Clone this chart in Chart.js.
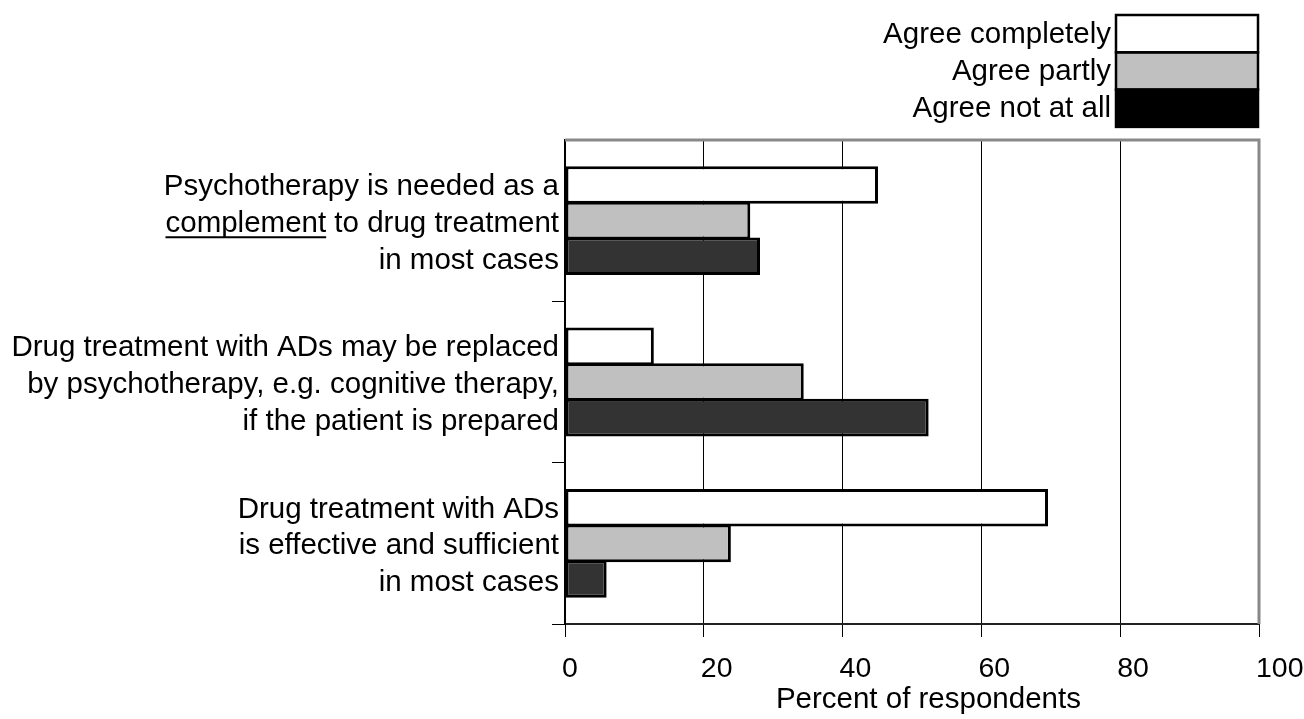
<!DOCTYPE html>
<html>
<head>
<meta charset="utf-8">
<script src="https://cdn.jsdelivr.net/npm/chart.js@4/dist/chart.umd.min.js"></script>
<style>
  html, body { margin: 0; padding: 0; background: #fff; }
</style>
</head>
<body>
<canvas id="chart" width="1304" height="719"></canvas>
<script>
// категории (многострочные подписи)
const categories = [
    ["Psychotherapy is needed as a", "complement to drug treatment", "in most cases"],
    ["Drug treatment with ADs may be replaced", "by psychotherapy, e.g. cognitive therapy,", "if the patient is prepared"],
    ["Drug treatment with ADs", "is effective and sufficient", "in most cases"]
];
const seriesNames = ["Agree completely", "Agree partly", "Agree not at all"];
const agreeCompletely = [45.1, 12.8, 69.6];
const agreePartly = [26.7, 34.4, 23.9];
const agreeNotAtAll = [28.1, 52.4, 6.0];
const xTicks = [0, 20, 40, 60, 80, 100];
const xTitle = "Percent of respondents";
const underlinedWord = "complement";

const barColors = ['#ffffff', '#c0c0c0', '#333333'];
const legendColors = ['#ffffff', '#c0c0c0', '#000000'];

const FONT = "'Liberation Sans', Arial, sans-serif";
const FS = 29.5;
const LH = 1.25;
const Y_TICK_LEN = 13;
const Y_PAD = -7;
const Y_SHIFT = 3;

Chart.defaults.font.family = FONT;
Chart.defaults.color = '#000';

// рамка области графика (серая сверху и справа)
const framePlugin = {
    id: 'frame',
    beforeDatasetsDraw(chart) {
        const a = chart.chartArea;
        const ctx = chart.ctx;
        ctx.save();
        ctx.strokeStyle = '#888888';
        ctx.lineWidth = 3;
        ctx.beginPath();
        ctx.moveTo(a.left, a.top);
        ctx.lineTo(a.right, a.top);
        ctx.lineTo(a.right, a.bottom);
        ctx.stroke();
        ctx.restore();
    }
};

// легенда справа сверху + подчёркивание слова
const extrasPlugin = {
    id: 'extras',
    afterDraw(chart) {
        const ctx = chart.ctx;
        ctx.save();
        // легенда
        const boxL = 1116, boxR = 1258, top = 15, rowH = 37.3;
        ctx.font = FS + 'px ' + FONT;
        ctx.textAlign = 'right';
        ctx.textBaseline = 'middle';
        chart.data.datasets.forEach((ds, i) => {
            const y = top + i * rowH;
            ctx.fillStyle = legendColors[i];
            ctx.fillRect(boxL, y, boxR - boxL, rowH);
            ctx.fillStyle = '#000';
            ctx.fillText(ds.label, boxL - 5, y + rowH / 2 + 1);
        });
        ctx.strokeStyle = '#000';
        ctx.lineWidth = 2.5;
        for (let i = 0; i < chart.data.datasets.length; i++) {
            ctx.strokeRect(boxL, top + i * rowH, boxR - boxL, rowH);
        }

        // подчёркивание "complement"
        const yScale = chart.scales.y;
        categories.forEach((lines, ci) => {
            lines.forEach((line, li) => {
                if (!line.startsWith(underlinedWord)) return;
                const cy = yScale.getPixelForTick(ci) + Y_SHIFT + (li - (lines.length - 1) / 2) * FS * LH;
                const rightX = yScale.right - Y_TICK_LEN - Y_PAD;
                const x0 = rightX - ctx.measureText(line).width;
                const w = ctx.measureText(underlinedWord).width;
                ctx.lineWidth = 2;
                ctx.beginPath();
                ctx.moveTo(x0, cy + 13.5);
                ctx.lineTo(x0 + w, cy + 13.5);
                ctx.stroke();
            });
        });
        ctx.restore();
    }
};

const seriesData = [agreeCompletely, agreePartly, agreeNotAtAll];

new Chart(document.getElementById('chart'), {
    type: 'bar',
    data: {
        labels: categories,
        datasets: seriesNames.map((name, i) => ({
            label: name,
            data: seriesData[i],
            backgroundColor: barColors[i],
            borderColor: '#000',
            borderWidth: 3,
            borderSkipped: false,
            categoryPercentage: 0.662,
            barPercentage: 1.056
        }))
    },
    options: {
        indexAxis: 'y',
        responsive: false,
        animation: false,
        layout: { padding: { top: 140, right: 45, left: 0, bottom: 0 } },
        plugins: {
            legend: { display: false },
            tooltip: { enabled: false }
        },
        scales: {
            x: {
                min: 0,
                max: 100,
                afterBuildTicks: s => { s.ticks = xTicks.map(v => ({ value: v })); },
                afterFit: s => { s.height = 95; s.paddingLeft = 0; s.paddingRight = 0; },
                grid: {
                    color: c => (c.tick && c.tick.value > 0 && c.tick.value < 100) ? '#000' : 'rgba(0,0,0,0)',
                    tickColor: '#000',
                    lineWidth: 1,
                    tickLength: 13
                },
                border: { color: '#222', width: 2 },
                ticks: {
                    font: { size: 28.5 },
                    color: '#000',
                    padding: 15,
                    align: 'start',
                    labelOffset: -3,
                    maxRotation: 0
                },
                title: {
                    display: true,
                    text: '\u00a0\u00a0\u00a0\u00a0' + xTitle,
                    font: { size: FS },
                    color: '#000',
                    padding: { top: 0, bottom: 1 }
                }
            },
            y: {
                afterFit: s => { s.width = 565; },
                grid: {
                    offset: true,
                    drawOnChartArea: false,
                    tickLength: Y_TICK_LEN,
                    tickColor: c => c.index === 0 ? 'rgba(0,0,0,0)' : '#000'
                },
                border: { color: '#000', width: 2 },
                ticks: {
                    font: { size: FS, lineHeight: LH },
                    color: '#000',
                    padding: Y_PAD,
                    labelOffset: Y_SHIFT,
                    autoSkip: false
                }
            }
        }
    },
    plugins: [framePlugin, extrasPlugin]
});
</script>
</body>
</html>
